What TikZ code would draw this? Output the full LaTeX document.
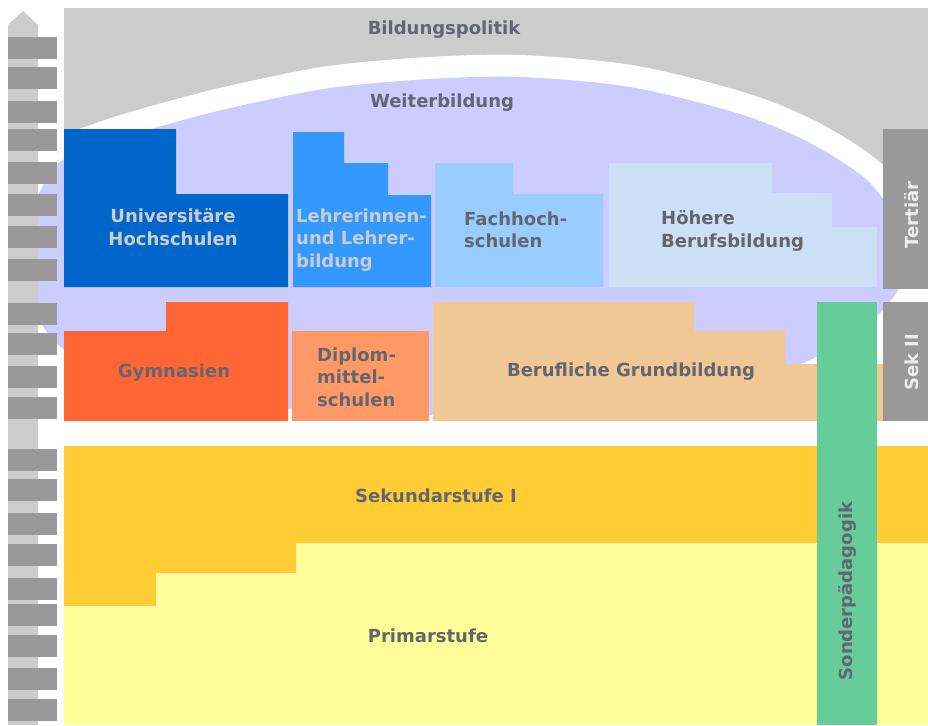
\documentclass[tikz,border=0pt]{standalone}
\usepackage{fontspec}
\setmainfont{DejaVu Sans}
\usepackage{tikz}

\definecolor{topgrey}{HTML}{CCCCCC}
\definecolor{rung}{HTML}{999999}
\definecolor{lavender}{HTML}{CCCCFF}
\definecolor{unicol}{HTML}{0066CC}
\definecolor{lehrcol}{HTML}{3399FF}
\definecolor{fhcol}{HTML}{99CCFF}
\definecolor{hbbcol}{HTML}{CEE0F5}
\definecolor{gymcol}{HTML}{FF6633}
\definecolor{dmscol}{HTML}{FF9966}
\definecolor{bgbcol}{HTML}{F0C896}
\definecolor{sondercol}{HTML}{66CC99}
\definecolor{sekcol}{HTML}{FFCC33}
\definecolor{primcol}{HTML}{FFFF99}
\definecolor{txtgrey}{HTML}{636670}

\begin{document}
\begin{tikzpicture}[x=1pt,y=-1pt,
    lbl/.style={font=\fontsize{18}{22.5}\selectfont\bfseries, text=txtgrey, inner sep=0pt},
    lbllight/.style={lbl, text=topgrey},
    lblside/.style={lbl, text=white!93!black, rotate=90}]
            \useasboundingbox (0,0) rectangle (928,725);

            % Bildungspolitik and the Weiterbildung oval
            \fill[topgrey] (64,8) rectangle (928,250);
            \path[preaction={draw=white, line width=44}, fill=lavender] plot[smooth cycle] coordinates {
                (20,258) (52,170) (100,145) (165,125) (235,107) (330,88) (430,79) (520,77)
                (630,87) (740,114) (810,143) (870,183) (905,240) (898,290) (855,335) (790,368)
                (680,398) (500,415) (300,410) (150,385) (55,342)};
            \node[lbl] (bildpol) at (444,30) {Bildungspolitik};
            \node[lbl] (weiterb) at (442,103) {Weiterbildung};

            % ladder
            \fill[topgrey] (8,725) -- (8,25) -- (23,11) -- (38,25) -- (38,725) -- cycle;
            \foreach \y in {37,67,101,129,162,194,226,259,303,333,366,397,449,479,513,544,578,604,635,668,699}
                \fill[rung] (8,\y) rectangle (57,\y+22);

            % Tertiaer
            \fill[unicol] (64,129) -- (176,129) -- (176,194) -- (288,194) -- (288,287) -- (64,287) -- cycle;
            \fill[lehrcol] (293,132) -- (344,132) -- (344,163) -- (388,163) -- (388,195) -- (431,195) -- (431,287) -- (293,287) -- cycle;
            \fill[fhcol] (435,163) -- (513,163) -- (513,194) -- (603,194) -- (603,287) -- (435,287) -- cycle;
            \fill[hbbcol] (609,163) -- (772,163) -- (772,193) -- (832,193) -- (832,227) -- (877,227) -- (877,287) -- (609,287) -- cycle;
            \fill[rung] (883,129) rectangle (928,289);
            \node[lbllight, align=center] (uni) at (173,227) {Universitäre\\Hochschulen};
            \node[lbllight, align=left, anchor=west] (lehrer) at (296,240) {Lehrerinnen-\\und Lehrer-\\bildung};
            \node[lbl, align=left, anchor=west] (fh) at (464,230) {Fachhoch-\\schulen};
            \node[lbl, align=left, anchor=west] (hbb) at (661,231) {Höhere\\Berufsbildung};
            \node[lblside] (tert) at (912,215) {Tertiär};

            % Sek II
            \fill[gymcol] (64,331) -- (166,331) -- (166,302) -- (288,302) -- (288,421) -- (64,421) -- cycle;
            \fill[dmscol] (292,331) rectangle (429,421);
            \fill[bgbcol] (433,302) -- (694,302) -- (694,331) -- (785,331) -- (785,364) -- (883,364) -- (883,421) -- (433,421) -- cycle;
            \fill[rung] (883,302) rectangle (928,421);
            \node[lbl] (gym) at (174,373) {Gymnasien};
            \node[lbl, align=left, anchor=west] (dms) at (317,377) {Diplom-\\mittel-\\schulen};
            \node[lbl] (bgb) at (631,372) {Berufliche Grundbildung};
            \node[lblside] (sek2) at (912,362) {Sek II};

            % Sek I und Primar
            \fill[sekcol] (64,446) -- (928,446) -- (928,543) -- (296,543) -- (296,573) -- (156,573) -- (156,606) -- (64,606) -- cycle;
            \fill[primcol] (64,606) -- (156,606) -- (156,573) -- (296,573) -- (296,543) -- (928,543) -- (928,725) -- (64,725) -- cycle;
            \draw[white!70!sekcol, line width=1] (64,606) -- (156,606) -- (156,573) -- (296,573) -- (296,543) -- (928,543);
            \node[lbl] (sek1) at (436,496) {Sekundarstufe I};
            \node[lbl] (primar) at (428,636) {Primarstufe};

            % Sonderpaedagogik
            \fill[sondercol] (817,302) rectangle (877,725);
            \node[lbl, rotate=90] (sonder) at (847,591) {Sonderpädagogik};
        \end{tikzpicture}
\end{document}
